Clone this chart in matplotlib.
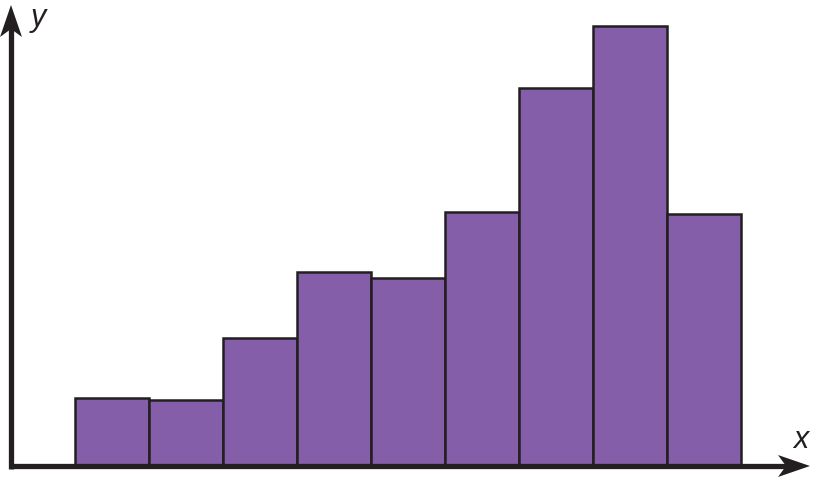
import matplotlib
matplotlib.use("Agg")
import matplotlib.pyplot as plt
from matplotlib.patches import Polygon

# bar data (left edge, height) in chart units
bin_edges = [64, 138, 212, 286, 360, 434, 508, 582, 656, 730]
heights = [68, 66, 128, 194, 188, 254, 378, 440, 252]

BAR_COLOR = '#845ea8'
INK = '#231f20'

fig = plt.figure(figsize=(8.16, 4.78), dpi=100, facecolor='white')
ax = fig.add_axes([0, 0, 1, 1])
ax.set_xlim(-11, 805)
ax.set_ylim(-12, 466)
ax.axis('off')

widths = [b - a for a, b in zip(bin_edges[:-1], bin_edges[1:])]
ax.bar(bin_edges[:-1], heights, width=widths, align='edge',
       color=BAR_COLOR, edgecolor=INK, linewidth=1.8, zorder=2)

# axes with arrow heads
x_end, y_end = 799, 461
ax.plot([0, x_end - 20], [0, 0], color=INK, lw=3.8, solid_capstyle='butt', zorder=3)
ax.plot([0, 0], [-2.5, y_end - 20], color=INK, lw=3.8, solid_capstyle='butt', zorder=3)


def head(tip, direction):
    L, W, notch = 32, 11, 8
    tx, ty = tip
    if direction == 'x':
        pts = [(tx, ty), (tx - L, ty + W), (tx - L + notch, ty), (tx - L, ty - W)]
    else:
        pts = [(tx, ty), (tx + W, ty - L), (tx, ty - L + notch), (tx - W, ty - L)]
    ax.add_patch(Polygon(pts, closed=True, color=INK, lw=0, zorder=4))


head((x_end, 0), 'x')
head((0, y_end), 'y')

ax.text(27, 448, 'y', fontsize=22, style='italic', family='Liberation Sans',
        color=INK, ha='center', va='center')
ax.text(790, 26, 'x', fontsize=22, style='italic', family='Liberation Sans',
        color=INK, ha='center', va='center')

fig.savefig('out.png', dpi=100, facecolor='white')
